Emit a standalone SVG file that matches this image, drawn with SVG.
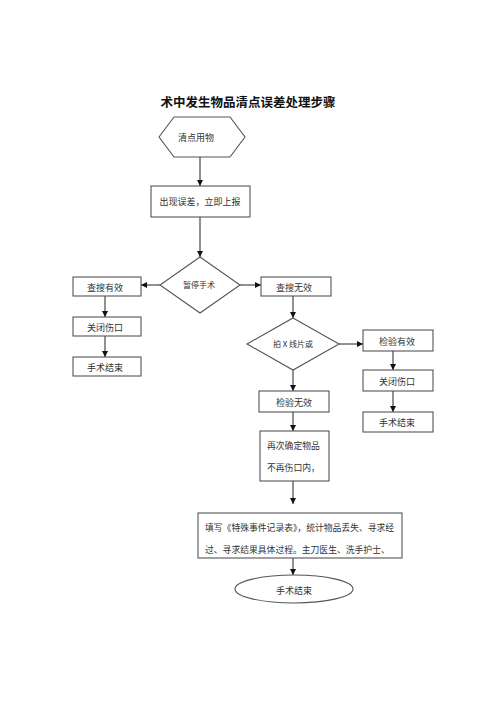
<svg xmlns="http://www.w3.org/2000/svg" width="500" height="707" viewBox="0 0 500 707">
<defs>
<marker id="arr" viewBox="0 0 10 10" refX="10" refY="5" markerWidth="6" markerHeight="6" markerUnits="userSpaceOnUse" orient="auto">
<path d="M0,0 L10,5 L0,10 z" fill="#111"/>
</marker>
</defs>
<style>
.shape{fill:#fff;stroke:#555;stroke-width:1.1}
.t{font-family:"Noto Sans CJK SC","Noto Sans",sans-serif;font-size:9px;fill:#333;text-anchor:middle;dominant-baseline:central}
.tl{font-family:"Noto Sans CJK SC","Noto Sans",sans-serif;font-size:8.8px;fill:#333;dominant-baseline:central}
.c{stroke:#222;stroke-width:1;fill:none;marker-end:url(#arr)}
</style>
<rect width="500" height="707" fill="#fff"/>
<text x="248" y="101" font-family="'Noto Sans CJK SC',sans-serif" font-size="12.5" font-weight="bold" text-anchor="middle" dominant-baseline="central" fill="#111">术中发生物品清点误差处理步骤</text>

<g id="connectors">
<line class="c" x1="200" y1="157" x2="200" y2="186"/>
<line class="c" x1="200" y1="217" x2="200" y2="257"/>
<line class="c" x1="160" y1="285" x2="141" y2="285"/>
<line class="c" x1="240" y1="285" x2="261" y2="285"/>
<line class="c" x1="105" y1="296" x2="105" y2="317"/>
<line class="c" x1="105" y1="336" x2="105" y2="357"/>
<line class="c" x1="293" y1="296" x2="293" y2="318"/>
<line class="c" x1="339" y1="344" x2="363" y2="344"/>
<line class="c" x1="393" y1="351" x2="393" y2="370"/>
<line class="c" x1="393" y1="391" x2="393" y2="412"/>
<line class="c" x1="293" y1="370" x2="293" y2="391"/>
<line class="c" x1="293" y1="412" x2="293" y2="431"/>
<line class="c" x1="293" y1="481" x2="293" y2="504"/>
<line class="c" x1="293" y1="546" x2="293" y2="575"/>
</g>

<g id="n1"><polygon class="shape" points="159,137 174,117 230,117 245,137 230,157 174,157"/><text class="t" x="196" y="137">清点用物</text></g>
<g id="n2"><rect class="shape" x="151" y="186" width="99" height="31"/><text class="t" x="200" y="201.5">出现误差，立即上报</text></g>
<g id="n3"><polygon class="shape" points="200,257 240,285 200,313 160,285"/><text class="t" x="199" y="284" style="font-size:8px">暂停手术</text></g>
<g id="n4"><rect class="shape" x="73" y="277" width="68" height="19"/><text class="t" x="105" y="287">查搜有效</text></g>
<g id="n5"><rect class="shape" x="73" y="317" width="68" height="19"/><text class="t" x="105" y="327">关闭伤口</text></g>
<g id="n6"><rect class="shape" x="73" y="357" width="68" height="19"/><text class="t" x="105" y="367">手术结束</text></g>
<g id="n7"><rect class="shape" x="261" y="277" width="70" height="19"/><text class="t" x="294" y="287">查搜无效</text></g>
<g id="n8"><polygon class="shape" points="293,318 339,344 293,370 247,344"/><text class="t" x="293" y="343" style="font-size:8px">拍 X 线片或</text></g>
<g id="n9"><rect class="shape" x="363" y="330" width="70" height="21"/><text class="t" x="397" y="341">检验有效</text></g>
<g id="n10"><rect class="shape" x="363" y="370" width="70" height="21"/><text class="t" x="397" y="381">关闭伤口</text></g>
<g id="n11"><rect class="shape" x="363" y="412" width="70" height="20"/><text class="t" x="397" y="422">手术结束</text></g>
<g id="n12"><rect class="shape" x="259" y="391" width="70" height="21"/><text class="t" x="294" y="402">检验无效</text></g>
<g id="n13"><rect class="shape" x="260" y="431" width="69" height="50"/><text class="tl" x="267" y="445">再次确定物品</text><text class="tl" x="267" y="467">不再伤口内，</text></g>
<g id="n14"><rect class="shape" x="198" y="513" width="204" height="45"/><text class="tl" x="205" y="527">填写《特殊事件记录表》，统计物品丢失、寻求经</text><text class="tl" x="205" y="549">过、寻求结果具体过程。主刀医生、洗手护士、</text></g>
<g id="n15"><ellipse class="shape" cx="294" cy="589" rx="59" ry="14"/><text class="t" x="294" y="590">手术结束</text></g>
</svg>
